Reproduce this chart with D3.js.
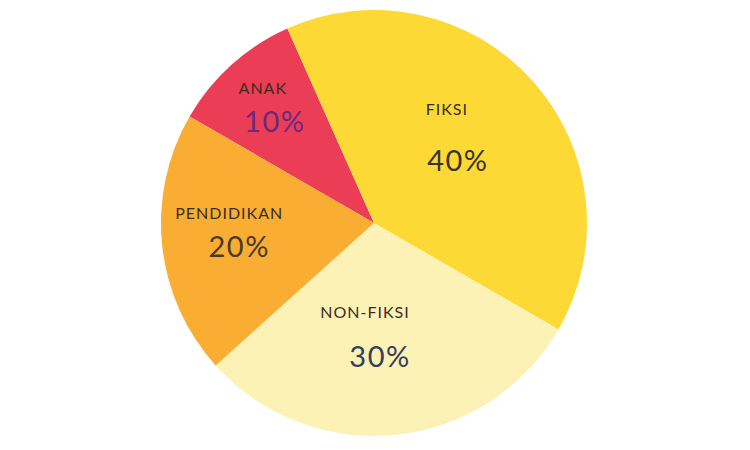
<!DOCTYPE html>
<html>
<head>
<meta charset="utf-8">
<script src="https://cdn.jsdelivr.net/npm/d3@7"></script>
<style>
  html, body { margin: 0; padding: 0; background: #fff; }
  svg { display: block; }
</style>
</head>
<body>
<div id="chart"></div>
<script>
// datos del gráfico
var categories = ['ANAK', 'FIKSI', 'NON-FIKSI', 'PENDIDIKAN'];
var values = [10, 40, 30, 20];
var pctLabels = ['10%', '40%', '30%', '20%'];

var width = 750;
var height = 450;
var cx = 374, cy = 223, radius = 213;

// colores por categoría
var sliceColor = d3.scaleOrdinal()
    .domain(categories)
    .range(['#ec3d57', '#fcd935', '#fdf2b6', '#f9ad32']);
var pctColor = d3.scaleOrdinal()
    .domain(categories)
    .range(['#6a2a7c', '#3a3422', '#353d5c', '#4a3a22']);

// posición de las etiquetas: radio (fracción) y giro en grados respecto al centro del sector
var labelLayout = {
    'ANAK':       { r: 0.715, turn: -1.7, gap: 38, nameDx: -6, pctDx: 6 },
    'FIKSI':      { r: 0.525, turn: -3.5, gap: 56, nameDx: -5.5, pctDx: 5.5 },
    'NON-FIKSI':  { r: 0.56,  turn: 6.7,  gap: 49, nameDx: -7.5, pctDx: 7.5 },
    'PENDIDIKAN': { r: 0.66,  turn: 0,    gap: 38, nameDx: -5, pctDx: 5 }
};

var svg = d3.select('#chart')
    .append('svg')
    .attr('width', width)
    .attr('height', height);

var g = svg.append('g')
    .attr('transform', 'translate(' + cx + ',' + cy + ')');

// el primer sector (ANAK) empieza a -60 grados
var start = -60 * Math.PI / 180;
var pie = d3.pie()
    .sort(null)
    .value((d) => d.value)
    .startAngle(start)
    .endAngle(start + 2 * Math.PI);

var data = categories.map((c, i) => ({ name: c, value: values[i], pct: pctLabels[i] }));
var arcs = pie(data);

var arc = d3.arc().innerRadius(0).outerRadius(radius);

g.selectAll('path')
    .data(arcs)
    .enter()
    .append('path')
    .attr('d', arc)
    .attr('fill', (d) => sliceColor(d.data.name));

function labelPoint(d) {
    var L = labelLayout[d.data.name];
    var a = (d.startAngle + d.endAngle) / 2 + L.turn * Math.PI / 180;
    var r = radius * L.r;
    return [Math.sin(a) * r, -Math.cos(a) * r];
}

var labels = g.selectAll('g.label')
    .data(arcs)
    .enter()
    .append('g')
    .attr('class', 'label')
    .attr('transform', (d) => 'translate(' + labelPoint(d) + ')');

labels.append('text')
    .attr('x', (d) => labelLayout[d.data.name].nameDx)
    .attr('y', (d) => -labelLayout[d.data.name].gap / 2)
    .attr('text-anchor', 'middle')
    .attr('font-family', 'Lato, sans-serif')
    .attr('font-size', 16)
    .attr('letter-spacing', 1)
    .attr('fill', '#3a2c1c')
    .text((d) => d.data.name);

labels.append('text')
    .attr('x', (d) => labelLayout[d.data.name].pctDx)
    .attr('y', (d) => labelLayout[d.data.name].gap / 2)
    .attr('text-anchor', 'middle')
    .attr('font-family', 'Lato, sans-serif')
    .attr('font-size', 29)
    .attr('letter-spacing', 1.5)
    .attr('fill', (d) => pctColor(d.data.name))
    .text((d) => d.data.pct);
</script>
</body>
</html>
